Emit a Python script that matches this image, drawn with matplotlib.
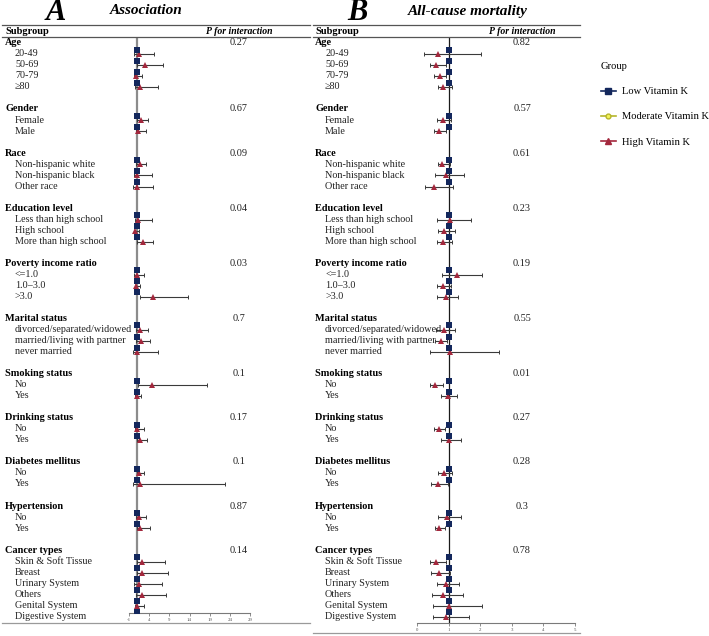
import numpy as np
import matplotlib
matplotlib.use("Agg")
import matplotlib.pyplot as plt
from matplotlib.lines import Line2D

plt.rcParams['font.family'] = ['Liberation Serif', 'DejaVu Serif']

# ---------------- data ----------------
sections = ["Age", "Gender", "Race", "Education level", "Poverty income ratio",
            "Marital status", "Smoking status", "Drinking status",
            "Diabetes mellitus", "Hypertension", "Cancer types"]
section_items = [
    ["20-49", "50-69", "70-79", "≥80"],
    ["Female", "Male"],
    ["Non-hispanic white", "Non-hispanic black", "Other race"],
    ["Less than high school", "High school", "More than high school"],
    ["<=1.0", "1.0–3.0", ">3.0"],
    ["divorced/separated/widowed", "married/living with partner", "never married"],
    ["No", "Yes"],
    ["No", "Yes"],
    ["No", "Yes"],
    ["No", "Yes"],
    ["Skin & Soft Tissue", "Breast", "Urinary System", "Others", "Genital System", "Digestive System"],
]

p_A = ["0.27", "0.67", "0.09", "0.04", "0.03", "0.7", "0.1", "0.17", "0.1", "0.87", "0.14"]
p_B = ["0.82", "0.57", "0.61", "0.23", "0.19", "0.55", "0.01", "0.27", "0.28", "0.3", "0.78"]

# Low Vitamin K = reference group
low_A = [1, 1, 1, 1, 1, 1, 1, 1, 1, 1, 1, 1, 1, 1, 1, 1, 1, 1, 1, 1, 1, 1, 1, 1, 1, 1, 1, 1, 1, 1, 1, 1]
low_B = [1, 1, 1, 1, 1, 1, 1, 1, 1, 1, 1, 1, 1, 1, 1, 1, 1, 1, 1, 1, 1, 1, 1, 1, 1, 1, 1, 1, 1, 1, 1, 1]

# High Vitamin K - Association (panel A)
high_A = [1.5, 2.9, 0.75, 1.8, 2.0, 1.25, 1.75, 1.0, 1.0, 1.3, 0.6, 2.5, 0.9, 0.75, 4.9,
          1.7, 1.9, 0.9, 4.75, 0.9, 0.9, 1.8, 1.6, 1.8, 1.6, 1.75, 2.3, 2.25, 1.5, 2.1, 1.1, np.nan]
high_A_lo = [0.33, 1.0, 0.25, 0.4, 1.0, 0.7, 0.8, 0.2, 0.1, 0.5, 0.2, 1.0, 0.3, 0.4, 1.75,
             0.75, 0.75, 0.1, 1.2, 0.5, 0.4, 0.9, 0.9, 0.0, 0.8, 0.9, 0.9, 0.9, 0.3, 0.75, 0.5, np.nan]
high_A_hi = [5.3, 7.4, 2.3, 6.1, 3.7, 3.2, 3.3, 4.6, 4.9, 4.8, 1.6, 4.9, 2.8, 1.7, 13.7,
             3.8, 4.25, 6.1, 18.3, 2.0, 2.6, 3.5, 2.8, 22.9, 3.2, 4.3, 7.9, 8.6, 7.3, 8.1, 2.6, np.nan]

# High Vitamin K - All-cause mortality (panel B)
high_B = [0.645, 0.60, 0.72, 0.83, 0.80, 0.70, 0.79, 0.91, 0.52, 1.03, 0.855, 0.82, 1.27, 0.81, 0.90,
          0.855, 0.74, 1.03, 0.57, 0.96, 0.68, 1.0, 0.855, 0.655, 0.94, 0.70, 0.60, 0.68, 0.90, 0.82, 1.01, 0.92]
high_B_lo = [0.21, 0.41, 0.53, 0.67, 0.61, 0.54, 0.665, 0.55, 0.24, 0.62, 0.67, 0.63, 0.77, 0.63, 0.62,
             0.60, 0.57, 0.41, 0.41, 0.76, 0.53, 0.75, 0.67, 0.44, 0.655, 0.57, 0.41, 0.43, 0.62, 0.465, 0.50, 0.50]
high_B_hi = [2.02, 0.91, 0.91, 1.09, 1.07, 0.90, 1.05, 1.49, 1.14, 1.71, 1.20, 1.11, 2.05, 1.06, 1.28,
             1.20, 0.94, 2.58, 0.80, 1.25, 0.88, 1.4, 1.09, 0.96, 1.37, 0.87, 0.90, 1.03, 1.32, 1.44, 2.05, 1.64]

ticks_A = [-1, 4, 9, 14, 19, 24, 29]
ticks_B = [0, 1, 2, 3, 4, 5]

# ---------------- layout ----------------
W, H = 709, 636
fig = plt.figure(figsize=(W / 100, H / 100), dpi=100)

ROW0, ROWH = 42.8, 11.03  # pixel y of first row label, row height


def fy(py):
    return 1 - py / H


def fx(px):
    return px / W


def row_px(r):
    return ROW0 + ROWH * r


def px_row(py):
    return (py - ROW0) / ROWH


# build rows
header_rows, item_rows, item_labels = [], [], []
r = 0
for si, sec in enumerate(sections):
    header_rows.append(r)
    r += 1
    for it in section_items[si]:
        item_rows.append(r)
        item_labels.append(it)
        r += 1
    r += 1
item_rows = np.array(item_rows, dtype=float)

NAVY = "#13275c"
RED = "#a3283d"
LBAR = "#3a3a3a"

panels = [
    dict(x0=2, x1=310, lab_x=5, ax_l=129, ax_r=250, ax_b=613, p_x=239, letter="A", letter_x=46,
         title="Association", title_x=110, xlim=(-1, 29), ticks=ticks_A, low=low_A,
         hr=high_A, lo=high_A_lo, hi=high_A_hi, p=p_A, refcol="#8c8c8c", reflw=1.6, bot=623),
    dict(x0=313, x1=580, lab_x=315, ax_l=417.3, ax_r=575, ax_b=623, p_x=522, letter="B", letter_x=347,
         title="All-cause mortality", title_x=408, xlim=(0, 5), ticks=ticks_B, low=low_B,
         hr=high_B, lo=high_B_lo, hi=high_B_hi, p=p_B, refcol="#1a1a1a", reflw=0.9, bot=633),
]

for P in panels:
    # letter & title
    fig.text(fx(P["letter_x"]), fy(13), P["letter"], fontsize=22, fontweight="bold",
             fontstyle="italic", ha="left", va="center")
    fig.text(fx(P["title_x"]), fy(11), P["title"], fontsize=11, fontweight="bold",
             fontstyle="italic", ha="left", va="center")
    # header lines
    for yy, c in [(25, "#555555"), (37.3, "#555555"), (P["bot"], "#9a9a9a")]:
        fig.add_artist(Line2D([fx(P["x0"]), fx(P["x1"])], [fy(yy), fy(yy)],
                              color=c, lw=0.9, transform=fig.transFigure))
    fig.text(fx(P["lab_x"]), fy(31.5), "Subgroup", fontsize=7.5, fontweight="bold",
             ha="left", va="center")
    fig.text(fx(P["p_x"]), fy(31.5), "P for interaction", fontsize=7, fontweight="bold",
             fontstyle="italic", ha="center", va="center")
    # row labels
    for si, hr_ in enumerate(header_rows):
        fig.text(fx(P["lab_x"]), fy(row_px(hr_)), sections[si], fontsize=7.4,
                 fontweight="bold", ha="left", va="center")
        fig.text(fx(P["p_x"]), fy(row_px(hr_)), P["p"][si], fontsize=7.4,
                 ha="center", va="center", color="#222222")
    for rr, lab in zip(item_rows, item_labels):
        fig.text(fx(P["lab_x"] + 10), fy(row_px(rr)), lab, fontsize=7.3,
                 ha="left", va="center", color="#222222")

    # forest axes
    top_px = 38
    ax = fig.add_axes([fx(P["ax_l"]), fy(P["ax_b"]), fx(P["ax_r"] - P["ax_l"]),
                       (P["ax_b"] - top_px) / H])
    ax.set_xlim(*P["xlim"])
    ax.set_ylim(px_row(P["ax_b"]), px_row(top_px))
    ax.patch.set_alpha(0)
    for s in ["top", "right", "left"]:
        ax.spines[s].set_visible(False)
    ax.spines["bottom"].set_color("#7a7a7a")
    ax.spines["bottom"].set_linewidth(0.8)
    ax.set_yticks([])
    ax.set_xticks(P["ticks"])
    ax.set_xticklabels([str(t) for t in P["ticks"]])
    ax.tick_params(axis="x", length=2, width=0.6, color="#7a7a7a", labelsize=3.5,
                   labelcolor="#555555", pad=1.5)
    ax.axvline(1, color=P["refcol"], lw=P["reflw"], zorder=1)

    hr = np.array(P["hr"], dtype=float)
    lo = np.array(P["lo"], dtype=float)
    hi = np.array(P["hi"], dtype=float)
    ok = ~np.isnan(hr)
    yh = item_rows + 0.03
    ax.errorbar(hr[ok], yh[ok], xerr=[hr[ok] - lo[ok], hi[ok] - hr[ok]], fmt="none",
                ecolor=LBAR, elinewidth=0.8, capsize=1.3, capthick=0.7, zorder=2)
    ax.plot(hr[ok], yh[ok], linestyle="none", marker="^", markersize=4.2, color=RED,
            markeredgewidth=0, zorder=3)
    ax.plot(np.array(P["low"], dtype=float), item_rows - 0.37, linestyle="none", marker="s",
            markersize=4, color=NAVY, markeredgewidth=0, zorder=4)

# legend
handles = [
    Line2D([], [], color=NAVY, marker="s", markersize=4, lw=1.2),
    Line2D([], [], color="#b5b52a", marker="o", markersize=3.5, markerfacecolor="#f2f25a",
           markeredgecolor="#b5b52a", lw=1.2),
    Line2D([], [], color=RED, marker="^", markersize=4, lw=1.2),
]
leg = fig.legend(handles, ["Low Vitamin K", "Moderate Vitamin K", "High Vitamin K"],
                 title="Group", loc="upper left", bbox_to_anchor=(fx(601), fy(62)),
                 frameon=False, fontsize=7.6, title_fontsize=7.6, handlelength=1.4,
                 handletextpad=0.6, labelspacing=1.5, borderaxespad=0, borderpad=0)
leg._legend_box.align = "left"

fig.savefig("out.png", dpi=100)
